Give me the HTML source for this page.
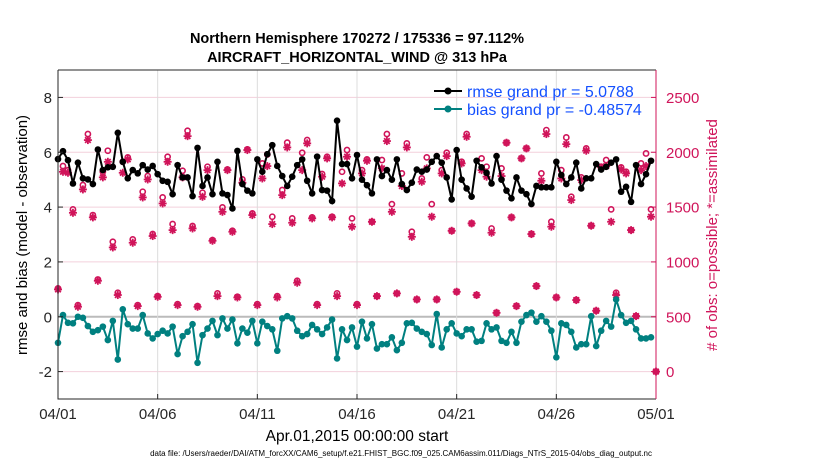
<!DOCTYPE html>
<html><head><meta charset="utf-8"><style>
html,body{margin:0;padding:0;background:#fff;}
svg{display:block;font-family:"Liberation Sans",Arial,sans-serif;}
</style></head><body>
<svg id="chart" width="830" height="470" viewBox="0 0 830 470">
<text x="357" y="43" text-anchor="middle" font-size="14.5" font-weight="bold">Northern Hemisphere 170272 / 175336 = 97.112%</text>
<text x="357" y="62" text-anchor="middle" font-size="14.5" font-weight="bold">AIRCRAFT_HORIZONTAL_WIND @ 313 hPa</text>
<g id="grid"></g>
<g id="obs"></g>
<g id="lines"></g>
<g id="axes"></g>
<text transform="translate(27,235) rotate(-90)" text-anchor="middle" font-size="15">rmse and bias (model - observation)</text>
<text transform="translate(717,235) rotate(-90)" text-anchor="middle" font-size="15" fill="#d0145a"># of obs: o=possible; *=assimilated</text>
<text x="357" y="441" text-anchor="middle" font-size="15.5">Apr.01,2015 00:00:00 start</text>
<text x="401" y="456" text-anchor="middle" font-size="8">data file: /Users/raeder/DAI/ATM_forcXX/CAM6_setup/f.e21.FHIST_BGC.f09_025.CAM6assim.011/Diags_NTrS_2015-04/obs_diag_output.nc</text>
<g>
<g>
<line x1="434" y1="91" x2="462" y2="91" stroke="#000" stroke-width="2"/><circle cx="448" cy="91" r="3.5" fill="#000"/>
<text x="467" y="97" font-size="16" fill="#1450ff">rmse grand pr = 5.0788</text></g>
<g>
<line x1="434" y1="109" x2="462" y2="109" stroke="#008080" stroke-width="2"/><circle cx="448" cy="109" r="3.5" fill="#008080"/>
<text x="467" y="115" font-size="16" fill="#1450ff">bias grand pr = -0.48574</text></g>
</g>
</svg>
<script>
const rmse=[5.75,6.04,5.71,4.86,5.62,5.05,5.01,4.84,6.10,5.35,5.45,5.47,6.71,5.65,5.05,5.35,5.23,5.53,5.37,5.50,5.20,4.96,4.92,4.47,5.53,5.08,5.08,4.40,6.16,4.77,5.08,4.47,5.65,4.50,4.44,3.95,6.05,4.84,4.60,4.50,5.74,5.29,5.93,6.26,5.50,5.13,4.77,5.11,5.53,5.74,4.96,4.50,5.84,4.62,4.60,4.22,7.15,5.57,5.57,5.05,5.90,
5.0,4.8,4.5,5.74,5.13,5.35,5.0,5.74,4.84,4.62,4.89,5.37,5.29,5.37,5.65,5.86,5.62,5.08,4.28,6.08,5.0,4.68,4.38,5.69,5.45,5.25,4.86,5.86,5.0,4.60,4.32,5.08,4.60,4.47,4.11,4.77,4.72,4.72,4.72,5.65,5.17,4.84,5.08,5.62,4.68,5.05,5.05,5.57,5.37,5.47,5.62,5.74,4.56,4.74,4.19,5.53,4.84,5.2,5.69];
const bias=[-0.95,0.06,-0.22,-0.24,0,-0.04,-0.34,-0.55,-0.49,-0.36,-0.85,-0.15,-1.56,0.27,-0.27,-0.43,-0.43,0.06,-0.61,-0.79,-0.63,-0.51,-0.61,-0.36,-1.36,-0.71,-0.55,-0.27,-1.68,-0.67,-0.43,-0.15,-0.67,-0.06,-0.43,-0.10,-0.97,-0.43,-0.58,-0.15,-0.97,-0.18,-0.34,-0.46,-1.24,-0.06,0.02,-0.06,-0.51,-0.71,-0.63,-0.30,-0.46,-0.63,-0.39,-0.10,-1.52,-0.46,-0.85,-0.39,-1.09,
-0.18,-0.79,-0.27,-1.16,-1.0,-1.0,-0.75,-1.22,-0.95,-0.24,-0.22,-0.43,-0.55,-0.63,-1.03,0.10,-1.12,-0.46,-0.24,-0.61,-0.71,-0.46,-0.46,-0.91,-0.88,-0.24,-0.46,-0.39,-0.88,-0.95,-0.55,-0.95,-0.18,0.06,0.15,-0.18,0.02,-0.18,-0.51,-1.48,-0.24,-0.30,-0.55,-1.12,-1.0,-1.0,0.02,-1.07,-0.51,-0.15,-0.36,0.63,0.06,-0.22,-0.15,-0.46,-0.79,-0.79,-0.75];
const nAssim=[749,1822,1813,1448,591,1661,2111,1406,828,1771,1913,1132,698,1813,1935,1175,597,1588,1752,1236,682,1533,1913,1290,606,1771,2147,1305,591,1594,1837,1193,688,1457,1837,1275,676,1722,2020,1427,606,1761,1874,1345,676,1609,2044,1357,810,1837,2081,1397,606,1777,1944,1406,688,1716,1959,1321,606,
1807,1922,1366,688,1853,2102,1457,713,1692,2044,1229,658,1731,1853,1412,658,1807,1965,1284,728,1898,2141,1351,698,1837,1777,1266,536,1783,2087,1406,597,1944,2035,1254,780,1740,2166,1321,676,1761,2074,1564,652,1746,2014,1330,555,1862,1874,1366,698,1843,1807,1290,506,1837,1874,1412,0];
const nPoss=[758,1874,1837,1479,606,1701,2166,1427,840,1822,2014,1184,719,1913,1953,1205,606,1640,1783,1254,688,1588,1959,1345,615,1831,2196,1327,597,1631,1868,1199,713,1497,1843,1284,682,1752,2026,1442,615,1898,1980,1412,688,1655,2087,1397,828,1995,2111,1406,615,1801,1959,1412,713,1822,2020,1397,615,
1837,1935,1366,688,1929,2166,1527,713,1807,2081,1275,658,1761,1953,1527,658,1837,1995,1284,728,1913,2166,1351,698,1944,1868,1305,536,1853,2087,1406,597,1944,2035,1254,780,1807,2202,1366,676,1837,2135,1594,652,1771,2035,1330,555,1868,1929,1479,719,1862,1822,1290,506,1898,1989,1479,0];
const xTickLabels=["04/01","04/06","04/11","04/16","04/21","04/26","05/01"];
const yTicksLeft=[-2,0,2,4,6,8];
const yTicksRight=[0,500,1000,1500,2000,2500];

const L=58,R=656,T=70,B=399;
const X=d=>L+(d/30)*(R-L);
const Y=v=>B-(v+3)/12*(B-T);
const YR=c=>B-(c+250)/3000*(B-T);
const NS='http://www.w3.org/2000/svg';
function mk(tag,attrs,parent){const e=document.createElementNS(NS,tag);for(const k in attrs)e.setAttribute(k,attrs[k]);parent.appendChild(e);return e;}
const grid=document.getElementById('grid'),axes=document.getElementById('axes'),obs=document.getElementById('obs'),lines=document.getElementById('lines');
const CR='#d0145a';
mk('rect',{x:L,y:T,width:R-L,height:B-T,fill:'#fff'},grid);
yTicksLeft.forEach(v=>{
  const g=mk('line',{x1:L,x2:R,y1:Y(v),y2:Y(v),stroke:v===0?'#bbbbbb':'#f3d0dc','stroke-width':v===0?2:1},grid);
  
  
  const t=mk('text',{x:L-6,y:Y(v)+5.5,'text-anchor':'end','font-size':15,fill:'#262626'},axes);
  t.textContent=v;
  
  
  mk('line',{x1:L,x2:L+5,y1:Y(v),y2:Y(v),stroke:'#262626'},axes);
});
yTicksRight.forEach(c=>{
  const t=mk('text',{x:R+10,y:YR(c)+5.5,'font-size':15,fill:CR},axes);
  t.textContent=c;
  
  
  mk('line',{x1:R-5,x2:R,y1:YR(c),y2:YR(c),stroke:CR},axes);
});
xTickLabels.forEach((s,i)=>{
  const x=X(i*5);
  if(i>0&&i<6){const g=mk('line',{x1:x,x2:x,y1:T,y2:B,stroke:'#dcdcdc'},grid);
    
    }
  mk('line',{x1:x,x2:x,y1:B,y2:B-5,stroke:'#262626'},axes);
  const t=mk('text',{x:x,y:419,'text-anchor':'middle','font-size':15,fill:'#262626'},axes);
  t.textContent=s;
  
  
});
mk('path',{d:`M${L},${T}H${R}`,stroke:'#262626',fill:'none'},axes);
mk('path',{d:`M${L},${T}V${B}H${R}`,stroke:'#262626',fill:'none'},axes);
mk('line',{x1:R,y1:T,x2:R,y2:B,stroke:CR},axes);

nPoss.forEach((c,i)=>{
  const x=X(i*0.25),y=YR(c);
  const e=mk('circle',{cx:x,cy:y,r:2.6,fill:'none',stroke:CR,'stroke-width':1.6},obs);
  
  
});
nAssim.forEach((c,i)=>{
  const x=X(i*0.25),y=YR(c),r=4;
  const g=mk('g',{stroke:CR,'stroke-width':1.8},obs);
  
  
  mk('line',{x1:x-r,x2:x+r,y1:y,y2:y},g);
  mk('line',{x1:x,x2:x,y1:y-r,y2:y+r},g);
  mk('line',{x1:x-r*0.7,x2:x+r*0.7,y1:y-r*0.7,y2:y+r*0.7},g);
  mk('line',{x1:x-r*0.7,x2:x+r*0.7,y1:y+r*0.7,y2:y-r*0.7},g);
});
function series(arr,color,name){
  const p=mk('polyline',{points:arr.map((v,i)=>X(i*0.25)+','+Y(v)).join(' '),fill:'none',stroke:color,'stroke-width':2},lines);
  
  
  arr.forEach((v,i)=>{
    const c=mk('circle',{cx:X(i*0.25),cy:Y(v),r:3.3,fill:color},lines);
    
    
  });
}
series(bias,'#008080','bias');
series(rmse,'#000000','rmse');
</script>
</body></html>
